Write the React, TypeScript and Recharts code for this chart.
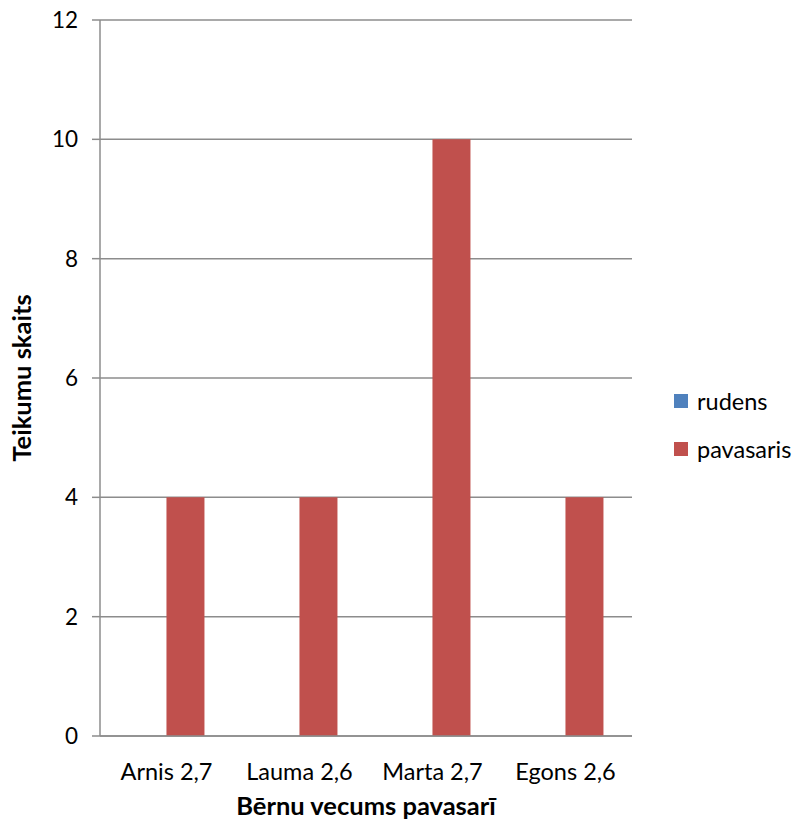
import { Bar, BarChart, CartesianGrid, XAxis, YAxis } from "recharts";

const categories = ["Arnis 2,7", "Lauma 2,6", "Marta 2,7", "Egons 2,6"];
const rudens = [0, 0, 0, 0];
const pavasaris = [4, 4, 10, 4];
const yTicks = [0, 2, 4, 6, 8, 10, 12];

const SERIES = [
  { key: "rudens", label: "rudens", color: "#4F81BD" },
  { key: "pavasaris", label: "pavasaris", color: "#C0504D" },
];

const data = categories.map((name, i) => ({
  name,
  rudens: rudens[i],
  pavasaris: pavasaris[i],
}));

const FONT = "Lato, 'Open Sans', sans-serif";
const GRID = "#8c8c8c";

function LegendBox() {
  return (
    <div
      style={{
        position: "absolute",
        left: 674,
        top: 377,
        fontFamily: FONT,
        fontSize: 23.5,
        color: "#000",
      }}
    >
      {SERIES.map((s) => (
        <div
          key={s.key}
          style={{ display: "flex", alignItems: "center", height: 48 }}
        >
          <span
            style={{
              width: 14,
              height: 14,
              background: s.color,
              marginRight: 9,
              display: "inline-block",
            }}
          />
          {s.label}
        </div>
      ))}
    </div>
  );
}

export default function App() {
  return (
    <div
      style={{
        position: "absolute",
        left: 0,
        top: 0,
        width: 800,
        height: 823,
        background: "#fff",
      }}
    >
      <BarChart
        width={800}
        height={823}
        data={data}
        margin={{ top: 20, right: 168, left: 40, bottom: 27 }}
        barCategoryGap="21.4%"
        barGap={0}
      >
        <CartesianGrid vertical={false} stroke={GRID} strokeWidth={1.5} />
        <XAxis
          dataKey="name"
          height={60}
          tickLine={false}
          axisLine={{ stroke: GRID, strokeWidth: 1.5 }}
          tick={{ fontSize: 23.5, fill: "#000", fontFamily: FONT }}
          tickMargin={21}
          interval={0}
          label={{
            value: "Bērnu vecums pavasarī",
            position: "insideBottom",
            offset: -19,
            style: { fontSize: 25.5, fontWeight: 700, fill: "#000", fontFamily: FONT },
          }}
        />
        <YAxis
          width={60}
          domain={[0, 12]}
          ticks={yTicks}
          tickSize={8}
          tickMargin={14}
          tickLine={{ stroke: GRID, strokeWidth: 1.5 }}
          axisLine={{ stroke: GRID, strokeWidth: 1.5 }}
          tick={{ fontSize: 22.5, fill: "#000", fontFamily: FONT }}
          label={{
            value: "Teikumu skaits",
            angle: -90,
            position: "insideLeft",
            offset: -18,
            style: {
              fontSize: 25.5,
              fontWeight: 700,
              fill: "#000",
              fontFamily: FONT,
              textAnchor: "middle",
            },
          }}
        />
        {SERIES.map((s) => (
          <Bar
            key={s.key}
            dataKey={s.key}
            name={s.label}
            fill={s.color}
            isAnimationActive={false}
          />
        ))}
      </BarChart>
      <LegendBox />
    </div>
  );
}
